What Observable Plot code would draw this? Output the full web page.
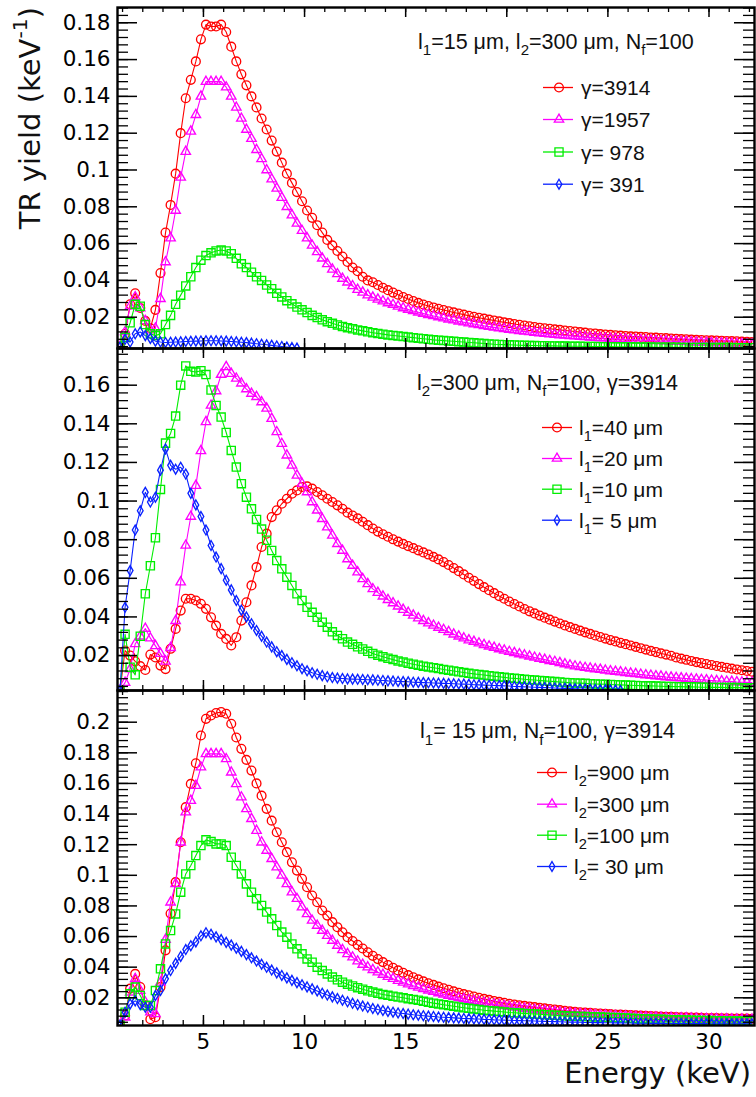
<!DOCTYPE html>
<html><head><meta charset="utf-8">
<script src="https://cdn.jsdelivr.net/npm/d3@7"></script>
<script src="https://cdn.jsdelivr.net/npm/@observablehq/plot@0.6"></script>
<style>
body{margin:0;background:#fff;}
#chart{position:relative;width:756px;height:1097px;}
#chart svg{display:block;}
</style></head><body><div id="chart"></div>
<script>
// Energy bins: centres at 0.875, 1.125, ... keV (0.25 keV bins)
const energyStart = 0.875, energyStep = 0.25;

// ---------- Panel 1: l1=15 um, l2=300 um, Nf=100 ----------
const p1_g3914 = [0.004,0.011,0.027,0.033,0.025,0.018,0.014,0.024,0.044,0.066,
0.081,0.098,0.120,0.139,0.149,0.159,0.171,0.179,0.178,0.178,
0.179,0.175,0.167,0.159,0.152,0.146,0.140,0.134,0.128,0.122,
0.116,0.110,0.104,0.098,0.093,0.088,0.083,0.078,0.074,0.070,
0.066,0.062,0.059,0.056,0.053,0.050,0.047,0.045,0.042,0.040,
0.039,0.0375,0.036,0.0347,0.0334,0.0322,0.031,0.0299,0.0288,0.0278,
0.0269,0.0261,0.0253,0.0246,0.0239,0.0232,0.0226,0.022,0.0214,0.0208,
0.0202,0.0197,0.0192,0.0187,0.0182,0.0177,0.0172,0.0168,0.0163,0.0159,
0.0155,0.0151,0.0147,0.0143,0.014,0.0137,0.0134,0.0131,0.0128,0.0125,
0.0122,0.0119,0.0116,0.0113,0.0111,0.0108,0.0106,0.0104,0.0102,0.0100,
0.0098,0.0096,0.0095,0.0093,0.0092,0.0090,0.0089,0.0087,0.0086,0.0084,
0.0083,0.0081,0.0080,0.0078,0.0077,0.0076,0.0075,0.0074,0.0073,0.0072,
0.0071,0.0070,0.0069,0.0067,0.0066,0.0065];
const p1_g1957 = [0.004,0.012,0.026,0.031,0.025,0.018,0.013,0.014,0.030,0.050,
0.063,0.078,0.096,0.110,0.121,0.130,0.140,0.148,0.148,0.148,
0.148,0.145,0.140,0.134,0.128,0.122,0.117,0.111,0.106,0.100,
0.095,0.090,0.085,0.080,0.0755,0.071,0.067,0.063,0.059,0.0555,
0.052,0.049,0.046,0.0435,0.041,0.039,0.037,0.035,0.0335,0.032,
0.0308,0.0297,0.0287,0.0277,0.0268,0.0259,0.025,0.0242,0.0234,0.0227,
0.022,0.0213,0.0207,0.0201,0.0195,0.0189,0.0184,0.0178,0.0173,0.0168,
0.0163,0.0158,0.0153,0.0149,0.0145,0.0141,0.0137,0.0133,0.013,0.0126,
0.0123,0.012,0.0117,0.0114,0.0111,0.0108,0.0106,0.0103,0.0101,0.0099,
0.0097,0.0095,0.0093,0.0091,0.0089,0.0087,0.0086,0.0084,0.0083,0.0081,
0.008,0.0079,0.0077,0.0076,0.0075,0.0074,0.0072,0.0071,0.007,0.0069,
0.0068,0.0067,0.0066,0.0065,0.0064,0.0063,0.0062,0.0061,0.006,0.0059,
0.0058,0.0057,0.0056,0.0055,0.0054,0.0053];
const p1_g978 = [0.004,0.009,0.017,0.027,0.026,0.016,0.011,0.010,0.011,0.016,
0.021,0.027,0.032,0.037,0.042,0.047,0.051,0.0535,0.055,0.056,
0.0565,0.056,0.0545,0.052,0.049,0.047,0.0445,0.042,0.040,0.0375,
0.0355,0.033,0.031,0.029,0.0273,0.0255,0.024,0.0225,0.021,0.0198,
0.0186,0.0176,0.0167,0.0158,0.015,0.0143,0.0137,0.0131,0.0126,0.0121,
0.0116,0.0112,0.0108,0.0104,0.0101,0.0098,0.0095,0.0092,0.0089,0.0086,
0.0083,0.008,0.0077,0.0075,0.0073,0.0071,0.0069,0.0067,0.0065,0.0063,
0.0061,0.0059,0.0057,0.0055,0.0053,0.0052,0.0051,0.005,0.0049,0.0048,
0.0047,0.0046,0.0046,0.0045,0.0045,0.0044,0.0044,0.0043,0.0043,0.0042,
0.0042,0.0042,0.0041,0.0041,0.0041,0.004,0.004,0.004,0.0039,0.0039,
0.0039,0.0039,0.0038,0.0038,0.0038,0.0038,0.0037,0.0037,0.0037,0.0037,
0.0037,0.0036,0.0036,0.0036,0.0036,0.0036,0.0035,0.0035,0.0035,0.0035,
0.0035,0.0035,0.0034,0.0034,0.0034,0.0034];
const p1_g391 = [0.0037,0.008,0.0065,0.011,0.012,0.010,0.0085,0.007,0.0065,0.0063,
0.0064,0.0065,0.0066,0.0068,0.0069,0.007,0.0071,0.0072,0.0072,0.0072,
0.0071,0.007,0.0068,0.0066,0.0064,0.0062,0.0059,0.0056,0.0053,0.005,
0.0047,0.0044,0.0041,0.0038,0.0035,0.0032,0.0029,0.0027,0.0025,0.0023,
0.0021,0.002,0.0019,0.0018,0.0017,0.0016];

// ---------- Panel 2: l2=300 um, Nf=100, gamma=3914 ----------
const p2_l40 = [0.002,0.0226,0.020,0.017,0.0145,0.0125,0.0205,0.019,0.0148,0.013,
0.0235,0.0338,0.0433,0.0494,0.0494,0.0485,0.0468,0.0442,0.0398,0.0355,
0.0312,0.0286,0.0252,0.0295,0.0381,0.0476,0.0563,0.0658,0.0762,0.0831,
0.0917,0.0952,0.0986,0.1012,0.1038,0.1055,0.1073,0.1076,0.1064,0.1047,
0.103,0.1012,0.0995,0.0978,0.096,0.094,0.0925,0.091,0.0893,0.0875,
0.0858,0.0842,0.0828,0.0815,0.0802,0.079,0.0778,0.0767,0.0756,0.0745,
0.0734,0.0723,0.0711,0.0698,0.0684,0.0669,0.0653,0.0637,0.062,0.0603,
0.0587,0.057,0.0554,0.0538,0.0523,0.0508,0.0494,0.048,0.0467,0.0454,
0.0441,0.0429,0.0418,0.0407,0.0396,0.0386,0.0376,0.0366,0.0356,0.0347,
0.0338,0.0329,0.032,0.0312,0.0304,0.0296,0.0288,0.028,0.0273,0.0266,
0.0259,0.0252,0.0245,0.0238,0.0231,0.0224,0.0218,0.0211,0.0205,0.0199,
0.019,0.0184,0.0178,0.0172,0.0166,0.0161,0.0156,0.0151,0.0146,0.0141,
0.0137,0.0132,0.0128,0.0124,0.012,0.0116];
const p2_l20 = [0.002,0.006,0.013,0.026,0.030,0.034,0.029,0.025,0.021,0.017,
0.024,0.038,0.058,0.077,0.092,0.108,0.126,0.141,0.1495,0.157,
0.1655,0.1695,0.166,0.1635,0.161,0.158,0.1557,0.154,0.1513,0.148,
0.1427,0.1358,0.1297,0.1237,0.1185,0.1133,0.109,0.1047,0.0995,0.0952,
0.0908,0.0865,0.0822,0.0779,0.0744,0.070,0.0666,0.0632,0.0597,0.0571,
0.0545,0.0526,0.0507,0.0489,0.0472,0.0455,0.0438,0.0423,0.0408,0.0394,
0.038,0.0368,0.0356,0.0345,0.0334,0.0323,0.031,0.030,0.029,0.028,
0.0272,0.0264,0.0256,0.0248,0.0241,0.0234,0.0227,0.022,0.0214,0.0208,
0.0202,0.0196,0.019,0.0184,0.0179,0.0173,0.0168,0.0162,0.0156,0.015,
0.0145,0.0141,0.0137,0.0134,0.013,0.0127,0.0123,0.012,0.0117,0.0114,
0.0111,0.0108,0.0105,0.0102,0.0099,0.0097,0.0094,0.0092,0.0089,0.0087,
0.0085,0.0083,0.0081,0.0079,0.0077,0.0075,0.0073,0.0071,0.0069,0.0068,
0.0066,0.0065,0.0063,0.0062,0.0061,0.006];
const p2_l10 = [0.002,0.031,0.014,0.010,0.030,0.052,0.0665,0.081,0.106,0.130,
0.135,0.144,0.160,0.170,0.1672,0.1668,0.1675,0.1655,0.1575,0.1495,
0.1435,0.1355,0.1262,0.1176,0.109,0.102,0.096,0.0905,0.0855,0.0797,
0.0744,0.0692,0.0649,0.0606,0.0563,0.052,0.0485,0.045,0.0424,0.0398,
0.0373,0.0347,0.0323,0.0304,0.0287,0.027,0.0258,0.0245,0.0234,0.0222,
0.0211,0.0202,0.0194,0.0186,0.0179,0.0172,0.0166,0.016,0.0155,0.015,
0.0145,0.0141,0.0137,0.0133,0.0128,0.0124,0.012,0.0116,0.0112,0.0108,
0.0105,0.0102,0.0099,0.0096,0.0093,0.009,0.0087,0.0084,0.0082,0.008,
0.0077,0.0075,0.0073,0.0071,0.0069,0.0067,0.0065,0.0063,0.0061,0.0059,
0.0058,0.0057,0.0056,0.0054,0.0053,0.0052,0.0051,0.005,0.0049,0.0048,
0.0047,0.0046,0.0045,0.0044,0.0043,0.0043,0.0042,0.0041,0.004,0.004,
0.0039,0.0039,0.0038,0.0038,0.0037,0.0036,0.0036,0.0035,0.0035,0.0035,
0.0034,0.0034,0.0034,0.0033,0.0033,0.0033];
const p2_l5 = [0.002,0.045,0.064,0.085,0.095,0.1045,0.0995,0.102,0.116,0.127,
0.1185,0.1165,0.1175,0.114,0.104,0.098,0.092,0.085,0.077,0.071,
0.065,0.059,0.054,0.0485,0.0435,0.040,0.0365,0.033,0.030,0.027,
0.0245,0.022,0.020,0.018,0.0163,0.0147,0.0132,0.0121,0.0111,0.0103,
0.0096,0.009,0.0086,0.0083,0.0081,0.0079,0.0078,0.0077,0.0076,0.0075,
0.0074,0.0072,0.0071,0.0069,0.0068,0.0066,0.0065,0.0064,0.0062,0.0061,
0.006,0.0059,0.0058,0.0057,0.0056,0.0055,0.0054,0.0053,0.0052,0.0051,
0.0049,0.0048,0.0047,0.0046,0.0045,0.0044,0.0043,0.0042,0.004,0.0039,
0.0038,0.0037,0.0036,0.0035,0.0034,0.0033,0.0032,0.0031,0.003,0.0029,
0.0028,0.0027,0.0026,0.0025,0.0024,0.0023,0.0023,0.0022,0.0021,0.0019,
0.0018,0.0017];

// ---------- Panel 3: l1=15 um, Nf=100, gamma=3914 ----------
const p3_l900 = [0.002,0.0084,0.026,0.0356,0.027,0.015,0.006,0.0073,0.027,0.051,
0.075,0.0955,0.1216,0.1445,0.1597,0.1732,0.1913,0.2022,0.2044,0.206,
0.2066,0.2055,0.199,0.190,0.1826,0.1754,0.1684,0.160,0.152,0.1434,
0.1357,0.1281,0.1216,0.1151,0.1085,0.1031,0.0977,0.0922,0.0868,0.0824,
0.077,0.0737,0.0694,0.0661,0.0628,0.0596,0.0571,0.0546,0.0522,0.0497,
0.0474,0.0453,0.0433,0.0414,0.0396,0.0379,0.0363,0.0348,0.0334,0.032,
0.0307,0.0295,0.0284,0.0273,0.0262,0.0252,0.0242,0.0233,0.0224,0.0216,
0.0208,0.02,0.0193,0.0186,0.0179,0.0173,0.0167,0.0161,0.0156,0.0151,
0.0147,0.0143,0.0139,0.0135,0.0131,0.0127,0.0123,0.0119,0.0115,0.0111,
0.0108,0.0105,0.0103,0.0101,0.0099,0.0097,0.0095,0.0093,0.0091,0.009,
0.0088,0.0087,0.0085,0.0084,0.0082,0.0081,0.0079,0.0078,0.0076,0.0075,
0.0074,0.0073,0.0072,0.0071,0.007,0.0069,0.0068,0.0068,0.0067,0.0066,
0.0066,0.0065,0.0065,0.0064,0.0064,0.0063];
const p3_l300 = [0.002,0.0073,0.0236,0.0324,0.0247,0.0171,0.0106,0.0095,0.030,0.058,
0.0824,0.0944,0.1216,0.1412,0.1488,0.1586,0.1706,0.1793,0.1793,0.1793,
0.1793,0.176,0.1673,0.1597,0.151,0.1434,0.1369,0.1292,0.1216,0.1162,
0.1108,0.1053,0.0999,0.0944,0.089,0.0847,0.0792,0.0748,0.0705,0.0672,
0.0639,0.0606,0.0574,0.0541,0.0513,0.0487,0.0465,0.0439,0.0417,0.040,
0.0383,0.0367,0.0352,0.0338,0.0325,0.0312,0.03,0.0289,0.0278,0.0268,
0.0258,0.0249,0.024,0.0231,0.0223,0.0215,0.0207,0.02,0.0193,0.0186,
0.018,0.0174,0.0168,0.0162,0.0157,0.0152,0.0147,0.0142,0.0138,0.0134,
0.013,0.0126,0.0122,0.0118,0.0115,0.0112,0.0108,0.0104,0.0101,0.0098,
0.0096,0.0094,0.0092,0.009,0.0088,0.0086,0.0085,0.0083,0.0082,0.008,
0.0079,0.0077,0.0076,0.0075,0.0074,0.0073,0.0072,0.0071,0.007,0.0069,
0.0068,0.0067,0.0067,0.0066,0.0065,0.0064,0.0063,0.0063,0.0062,0.0061,
0.0061,0.006,0.006,0.0059,0.0059,0.0058];
const p3_l100 = [0.002,0.0106,0.0226,0.027,0.0215,0.015,0.015,0.0247,0.0389,0.0552,
0.0639,0.0748,0.089,0.1009,0.1064,0.1129,0.1194,0.1232,0.122,0.1205,
0.1205,0.1194,0.1118,0.1064,0.1009,0.0944,0.089,0.0847,0.0803,0.076,
0.0716,0.0672,0.0629,0.0596,0.0552,0.052,0.0487,0.0454,0.0432,0.040,
0.0378,0.0356,0.0335,0.0317,0.0302,0.0289,0.0277,0.0266,0.0256,0.0246,
0.0237,0.0229,0.0222,0.0216,0.021,0.0205,0.02,0.0194,0.0189,0.0184,
0.0177,0.0171,0.0165,0.016,0.0155,0.015,0.0145,0.014,0.0135,0.0131,
0.0127,0.0123,0.0119,0.0116,0.0113,0.011,0.0107,0.0104,0.0102,0.01,
0.0098,0.0096,0.0094,0.0092,0.009,0.0088,0.0086,0.0084,0.0082,0.008,
0.0079,0.0078,0.0077,0.0076,0.0075,0.0074,0.0073,0.0072,0.0071,0.007,
0.0068,0.0066,0.0064,0.0063,0.0062,0.0061,0.006,0.0059,0.0058,0.0057,
0.0056,0.0055,0.0055,0.0054,0.0053,0.0052,0.0052,0.0051,0.005,0.005,
0.0049,0.0049,0.0048,0.0048,0.0047,0.0047];
const p3_l30 = [0.002,0.0106,0.016,0.018,0.0155,0.0138,0.0138,0.0215,0.0248,0.0324,
0.0378,0.0425,0.047,0.0515,0.054,0.0565,0.0605,0.0625,0.0615,0.0598,
0.058,0.0562,0.0544,0.0524,0.0503,0.0482,0.0461,0.044,0.0419,0.0399,
0.0381,0.0363,0.0346,0.033,0.0314,0.0299,0.0285,0.0271,0.0258,0.0245,
0.023,0.0218,0.0206,0.0195,0.0184,0.0174,0.0164,0.0155,0.0146,0.0138,
0.013,0.0123,0.0117,0.0111,0.0106,0.0101,0.0097,0.0093,0.0089,0.0086,
0.0083,0.008,0.0078,0.0075,0.0073,0.0071,0.0069,0.0067,0.0065,0.0064,
0.0062,0.0061,0.0059,0.0058,0.0056,0.0055,0.0054,0.0053,0.0052,0.0051,
0.005,0.0049,0.0048,0.0047,0.0046,0.0045,0.0044,0.0043,0.0042,0.0041,
0.0041,0.004,0.0039,0.0039,0.0038,0.0038,0.0037,0.0037,0.0036,0.0036,
0.0035,0.0035,0.0034,0.0034,0.0034,0.0033,0.0033,0.0033,0.0032,0.0032,
0.0032,0.0032,0.0031,0.0031,0.0031,0.0031,0.0031,0.003,0.003,0.003,
0.003,0.003,0.003,0.003,0.003,0.003];

// ---------- Labels and ticks ----------
const legendP1 = ["γ=3914", "γ=1957", "γ= 978", "γ= 391"];
const legendP2 = ["l_{1}=40 μm", "l_{1}=20 μm", "l_{1}=10 μm", "l_{1}= 5 μm"];
const legendP3 = ["l_{2}=900 μm", "l_{2}=300 μm", "l_{2}=100 μm", "l_{2}= 30 μm"];
const headerP1 = "l_{1}=15 μm, l_{2}=300 μm, N_{f}=100";
const headerP2 = "l_{2}=300 μm, N_{f}=100, γ=3914";
const headerP3 = "l_{1}= 15 μm, N_{f}=100, γ=3914";
const xTitle = "Energy (keV)";
const yTitle = "TR yield (keV^{-1})";
const xMajorTicks = [5, 10, 15, 20, 25, 30];
const yMajorP1 = [0.02,0.04,0.06,0.08,0.1,0.12,0.14,0.16,0.18];
const yMajorP2 = [0.02,0.04,0.06,0.08,0.1,0.12,0.14,0.16];
const yMajorP3 = [0.02,0.04,0.06,0.08,0.1,0.12,0.14,0.16,0.18,0.2];

// ---------- Styling ----------
const W = 756, ML = 117, MR = 2;
const X_DOMAIN = [0.75, 32.25];
const COLORS = ["#ff0000", "#ff00ff", "#00ee00", "#0a22ff"];
const SYMBOLS = [d3.symbolCircle, d3.symbolTriangle, d3.symbolSquare, d3.symbolDiamond];
const RADII = [4.4, 3.5, 4.6, 3.0];
const xMinorTicks = d3.range(1, 33);
const fmtY = d => d.toFixed(2).replace(/0$/, "");

function rows(values) {
  return values.map((v, k) => ({x: energyStart + energyStep * k, y: v}));
}

function richText(sel, str, fs) {
  const re = /([_^])\{([^}]*)\}/g;
  let last = 0, m; const parts = [];
  while ((m = re.exec(str))) {
    if (m.index > last) parts.push({t: str.slice(last, m.index), k: ""});
    parts.push({t: m[2], k: m[1]});
    last = re.lastIndex;
  }
  if (last < str.length) parts.push({t: str.slice(last), k: ""});
  let cur = 0;
  for (const p of parts) {
    const target = p.k === "_" ? 0.3 * fs : p.k === "^" ? -0.45 * fs : 0;
    const ts = sel.append("tspan").text(p.t).attr("dy", target - cur);
    if (p.k) ts.attr("font-size", fs * 0.7);
    cur = target;
  }
}

function makePanel(cfg) {
  const {series, yDomain, yMajor, height, marginTop, marginBottom, showX} = cfg;
  const frameW = W - ML - MR;
  const frameH = height - marginTop - marginBottom;
  const yMinor = d3.range(1, 80).map(i => +(i * 0.004).toFixed(4)).filter(v => v > yDomain[0] && v < yDomain[1]);
  const marks = [];
  series.forEach((vals, i) => {
    const data = rows(vals);
    marks.push(Plot.line(data, {x: "x", y: "y", stroke: COLORS[i], strokeWidth: 1.1, clip: true}));
    marks.push(Plot.dot(data.filter(d => d.y >= yDomain[0] && d.y <= yDomain[1]),
      {x: "x", y: "y", symbol: SYMBOLS[i], r: RADII[i], stroke: COLORS[i], fill: "none", strokeWidth: 1.35, clip: true}));
  });
  marks.push(
    Plot.tickY(yMinor, {y: d => d, insetRight: frameW - 11, stroke: "#000", strokeWidth: 1.3}),
    Plot.tickY(yMinor, {y: d => d, insetLeft: frameW - 11, stroke: "#000", strokeWidth: 1.3}),
    Plot.tickY(yMajor, {y: d => d, insetRight: frameW - 20, stroke: "#000", strokeWidth: 1.5}),
    Plot.tickY(yMajor, {y: d => d, insetLeft: frameW - 20, stroke: "#000", strokeWidth: 1.5}),
    Plot.tickX(xMinorTicks, {x: d => d, insetTop: frameH - 5, stroke: "#000", strokeWidth: 1.3}),
    Plot.tickX(xMinorTicks, {x: d => d, insetBottom: frameH - 5, stroke: "#000", strokeWidth: 1.3}),
    Plot.tickX(xMajorTicks, {x: d => d, insetTop: frameH - 10, stroke: "#000", strokeWidth: 1.5}),
    Plot.tickX(xMajorTicks, {x: d => d, insetBottom: frameH - 10, stroke: "#000", strokeWidth: 1.5}),
    Plot.frame({stroke: "#000", strokeWidth: 2.4}),
    Plot.axisY(yMajor, {anchor: "left", tickSize: 0, tickPadding: 7, tickFormat: fmtY, label: null, fill: "#000"})
  );
  if (showX) marks.push(Plot.axisX(xMajorTicks, {anchor: "bottom", tickSize: 0, tickPadding: 8, label: null, fill: "#000"}));
  const svg = Plot.plot({
    width: W, height, marginLeft: ML, marginRight: MR, marginTop, marginBottom,
    x: {domain: X_DOMAIN, ...(showX ? {} : {axis: null})},
    y: {domain: yDomain},
    style: {background: "transparent", overflow: "visible", fontFamily: "DejaVu Sans", fontSize: "21.5px", color: "#000"},
    marks
  });
  const s = d3.select(svg);
  // header
  const h = s.append("text").attr("x", cfg.header.x).attr("y", cfg.header.y).attr("text-anchor", "start")
    .attr("font-family", "Liberation Sans").attr("font-size", 21.5).attr("fill", "#111")
    .style("white-space", "pre");
  richText(h, cfg.header.text, 21.5);
  // legend
  const L = cfg.legend;
  L.labels.forEach((lab, i) => {
    const yb = L.ys[i], yc = yb - 7.5;
    s.append("line").attr("x1", L.x1).attr("x2", L.x2).attr("y1", yc).attr("y2", yc)
      .attr("stroke", COLORS[i]).attr("stroke-width", 1.3);
    s.append("path").attr("d", d3.symbol(SYMBOLS[i], Math.PI * RADII[i] * RADII[i])())
      .attr("transform", `translate(${L.xm},${yc})`)
      .attr("fill", "none").attr("stroke", COLORS[i]).attr("stroke-width", 1.3);
    const t = s.append("text").attr("x", L.xt).attr("y", yb).attr("text-anchor", "start")
      .attr("font-family", "Liberation Sans").attr("font-size", 21).attr("fill", "#111")
      .style("white-space", "pre");
    richText(t, lab, 21);
  });
  return svg;
}

const root = document.getElementById("chart");

const svg1 = makePanel({
  series: [p1_g3914, p1_g1957, p1_g978, p1_g391],
  yDomain: [0.003, 0.1883], yMajor: yMajorP1, height: 348, marginTop: 7, marginBottom: 0, showX: false,
  header: {text: headerP1, x: 418, y: 48.5},
  legend: {labels: legendP1, x1: 543, x2: 573, xm: 559, xt: 581, ys: [95, 127, 159.5, 191.7]}
});
const svg2 = makePanel({
  series: [p2_l40, p2_l20, p2_l10, p2_l5],
  yDomain: [0.0019, 0.179], yMajor: yMajorP2, height: 342, marginTop: 0, marginBottom: 0, showX: false,
  header: {text: headerP2, x: 417, y: 42},
  legend: {labels: legendP2, x1: 542, x2: 572, xm: 557, xt: 579, ys: [87, 118, 148.7, 179.7]}
});
const svg3 = makePanel({
  series: [p3_l900, p3_l300, p3_l100, p3_l30],
  yDomain: [0.0019, 0.2207], yMajor: yMajorP3, height: 407, marginTop: 0, marginBottom: 72, showX: true,
  header: {text: headerP3, x: 420, y: 48.3},
  legend: {labels: legendP3, x1: 537, x2: 567, xm: 552, xt: 574, ys: [90, 121.7, 152.7, 184]}
});
// axis titles
d3.select(svg3).append("text").attr("x", 751).attr("y", 393).attr("text-anchor", "end")
  .attr("font-family", "DejaVu Sans").attr("font-size", 29).attr("fill", "#111").text(xTitle);
const yt = d3.select(svg1).append("text").attr("transform", "translate(40,7) rotate(-90)")
  .attr("text-anchor", "end").attr("font-family", "DejaVu Sans").attr("font-size", 29).attr("fill", "#111");
richText(yt, yTitle, 29);

root.append(svg1, svg2, svg3);
</script>
</body></html>
